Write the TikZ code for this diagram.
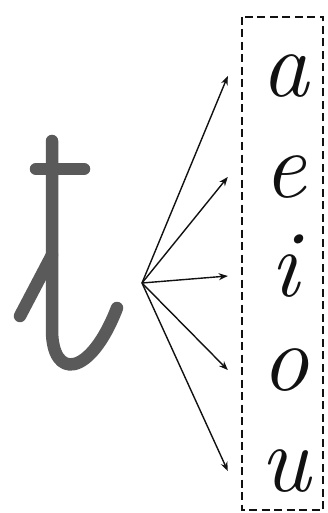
\documentclass[tikz,border=0pt]{standalone}
\usepackage{fontspec}
\usepackage{tikz}
\usetikzlibrary{arrows.meta}
\definecolor{cgray}{HTML}{5A5A5A}
\definecolor{cink}{HTML}{111111}
\tikzset{>={Stealth[length=9pt,width=7pt]},
  vowel/.style={font=\fontsize{95}{95}\selectfont\itshape,text height=41pt,text depth=0pt,inner sep=0pt,minimum width=114pt,text=cink},
  tstroke/.style={cgray,line width=12.5pt,line cap=round,line join=round},
  fan/.style={->,line width=1.4pt,draw=cink},
  vbox/.style={draw=cink,line width=2.8pt,dash pattern=on 8pt off 4.5pt}}

\begin{document}
\begin{tikzpicture}[x=1pt,y=-1pt]
\useasboundingbox (0,0) rectangle (327,513);

% ================= the big letter t =================
\draw[tstroke] (52,141) -- (52,330) .. controls (52,380) and (90,378) .. (117,308);
\draw[tstroke] (36,169) -- (84,169);
\draw[tstroke] (52,255) -- (20,316);

% ================= vowels =================
\node[vowel] (va) at (285,76) {a};
\node[vowel] (ve) at (285,177) {e};
\node[vowel] (vi) at (285,276) {i};
\node[vowel] (vo) at (285,370) {o};
\node[vowel] (vu) at (285,471) {u};
\draw[vbox] (242,17) rectangle (323,510);

% ================= arrows =================
\coordinate (src) at (142,283);
\foreach \v in {va,ve,vi,vo,vu}
  \draw[fan] (src) -- (\v.west);

\end{tikzpicture}
\end{document}
